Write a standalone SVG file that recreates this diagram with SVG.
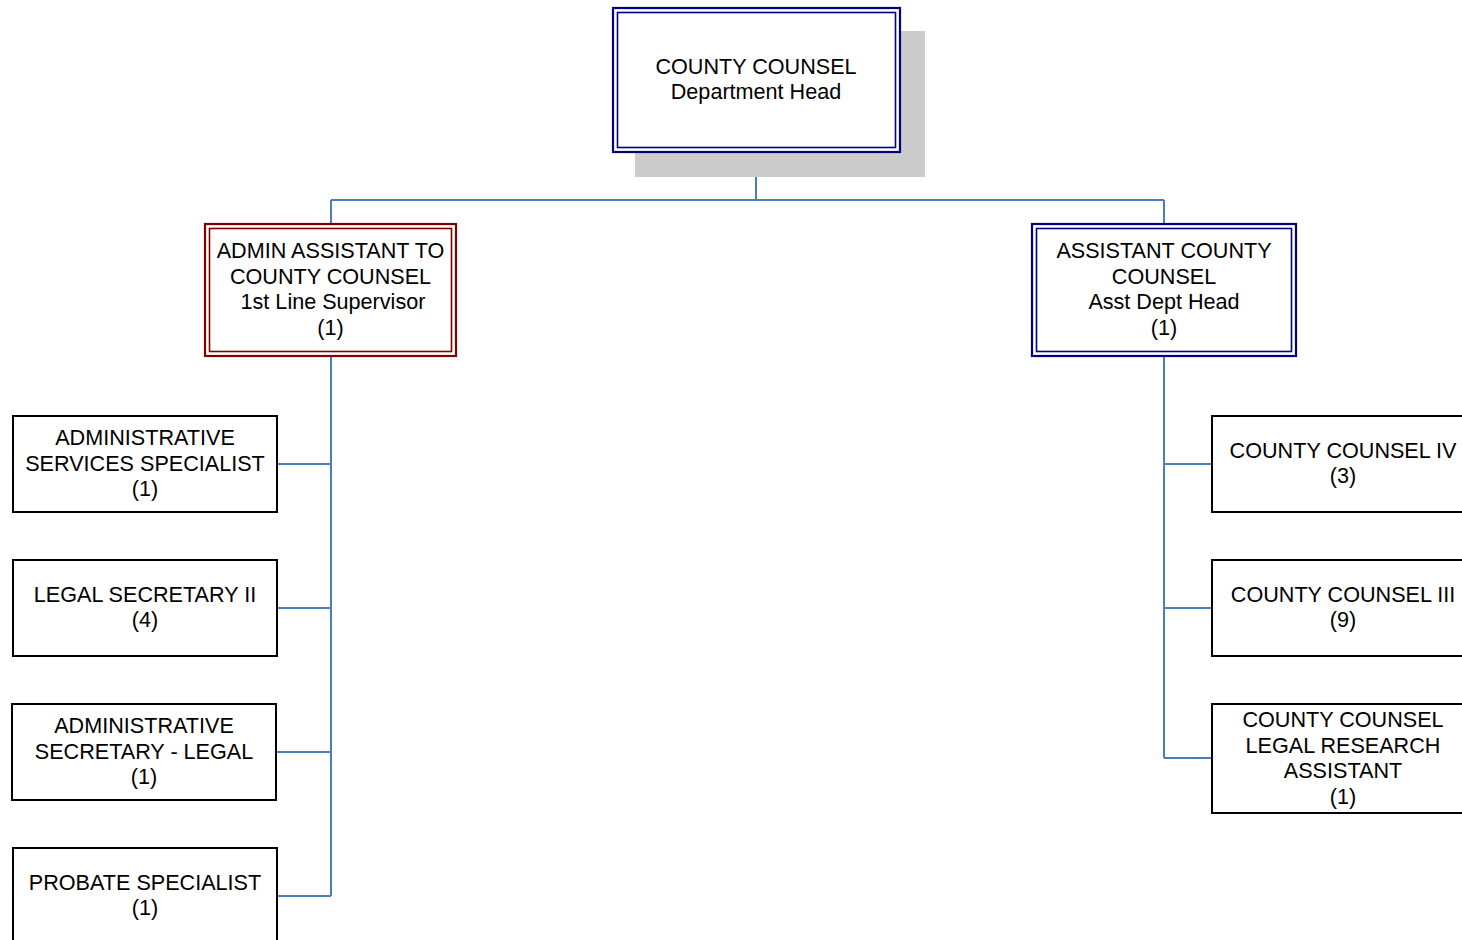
<svg xmlns="http://www.w3.org/2000/svg" width="1462" height="940" viewBox="0 0 1462 940">
  <style>
    .lbl { font-family: "Liberation Sans", Arial, sans-serif; font-size: 21.6px; fill: #000; text-anchor: middle; }
    .box { fill: #fff; stroke: #000; stroke-width: 2; }
    .navy-o { fill: #fff; stroke: #000080; stroke-width: 2.2; }
    .navy-i { fill: none; stroke: #000080; stroke-width: 1.6; }
    .red-o { fill: #fff; stroke: #800000; stroke-width: 2.2; }
    .red-i { fill: none; stroke: #800000; stroke-width: 1.6; }
    .link { fill: none; stroke: #4a7ebb; stroke-width: 2; }
  </style>
  <rect width="1462" height="940" fill="#fff"/>

  <!-- connectors -->
  <g id="connectors">
    <path class="link" d="M756 152 V200 M331 200 H1164 M331 200 V224 M1164 200 V224"/>
    <path class="link" d="M331 356 V896 M277 464 H331 M277 608 H331 M276 752 H331 M277 896 H331"/>
    <path class="link" d="M1164 356 V758 M1164 464 H1212 M1164 608 H1212 M1164 758 H1212"/>
  </g>

  <!-- department head -->
  <g id="node-county-counsel">
    <rect x="635" y="31" width="290" height="146" fill="#cccccc"/>
    <rect class="navy-o" x="613" y="8" width="287" height="144"/>
    <rect class="navy-i" x="617.5" y="12.5" width="278" height="135"/>
    <text class="lbl" x="756" y="74">COUNTY COUNSEL</text>
    <text class="lbl" x="756" y="99">Department Head</text>
  </g>

  <g id="node-admin-assistant">
    <rect class="red-o" x="205" y="224" width="251" height="132"/>
    <rect class="red-i" x="209.5" y="228.5" width="242" height="123"/>
    <text class="lbl" x="330.5" y="258">ADMIN ASSISTANT TO</text>
    <text class="lbl" x="330.5" y="283.5">COUNTY COUNSEL</text>
    <text class="lbl" x="333" y="309">1st Line Supervisor</text>
    <text class="lbl" x="330.5" y="334.5">(1)</text>
  </g>

  <g id="node-assistant-county-counsel">
    <rect class="navy-o" x="1032" y="224" width="264" height="132"/>
    <rect class="navy-i" x="1036.5" y="228.5" width="255" height="123"/>
    <text class="lbl" x="1164" y="258">ASSISTANT COUNTY</text>
    <text class="lbl" x="1164" y="283.5">COUNSEL</text>
    <text class="lbl" x="1164" y="309">Asst Dept Head</text>
    <text class="lbl" x="1164" y="334.5">(1)</text>
  </g>

  <!-- left column -->
  <g id="node-admin-services-specialist">
    <rect class="box" x="13" y="416" width="264" height="96"/>
    <text class="lbl" x="145" y="445">ADMINISTRATIVE</text>
    <text class="lbl" x="145" y="470.5">SERVICES SPECIALIST</text>
    <text class="lbl" x="145" y="496">(1)</text>
  </g>

  <g id="node-legal-secretary-ii">
    <rect class="box" x="13" y="560" width="264" height="96"/>
    <text class="lbl" x="145" y="601.5">LEGAL SECRETARY II</text>
    <text class="lbl" x="145" y="627">(4)</text>
  </g>

  <g id="node-admin-secretary-legal">
    <rect class="box" x="12" y="704" width="264" height="96"/>
    <text class="lbl" x="144" y="733">ADMINISTRATIVE</text>
    <text class="lbl" x="144" y="758.5">SECRETARY - LEGAL</text>
    <text class="lbl" x="144" y="784">(1)</text>
  </g>

  <g id="node-probate-specialist">
    <rect class="box" x="13" y="848" width="264" height="110"/>
    <text class="lbl" x="145" y="889.5">PROBATE SPECIALIST</text>
    <text class="lbl" x="145" y="915">(1)</text>
  </g>

  <!-- right column -->
  <g id="node-county-counsel-iv">
    <rect class="box" x="1212" y="416" width="264" height="96"/>
    <text class="lbl" x="1343" y="457.5">COUNTY COUNSEL IV</text>
    <text class="lbl" x="1343" y="483">(3)</text>
  </g>

  <g id="node-county-counsel-iii">
    <rect class="box" x="1212" y="560" width="264" height="96"/>
    <text class="lbl" x="1343" y="601.5">COUNTY COUNSEL III</text>
    <text class="lbl" x="1343" y="627">(9)</text>
  </g>

  <g id="node-legal-research-assistant">
    <rect class="box" x="1212" y="704" width="264" height="109"/>
    <text class="lbl" x="1343" y="727">COUNTY COUNSEL</text>
    <text class="lbl" x="1343" y="752.5">LEGAL RESEARCH</text>
    <text class="lbl" x="1343" y="778">ASSISTANT</text>
    <text class="lbl" x="1343" y="803.5">(1)</text>
  </g>
</svg>
